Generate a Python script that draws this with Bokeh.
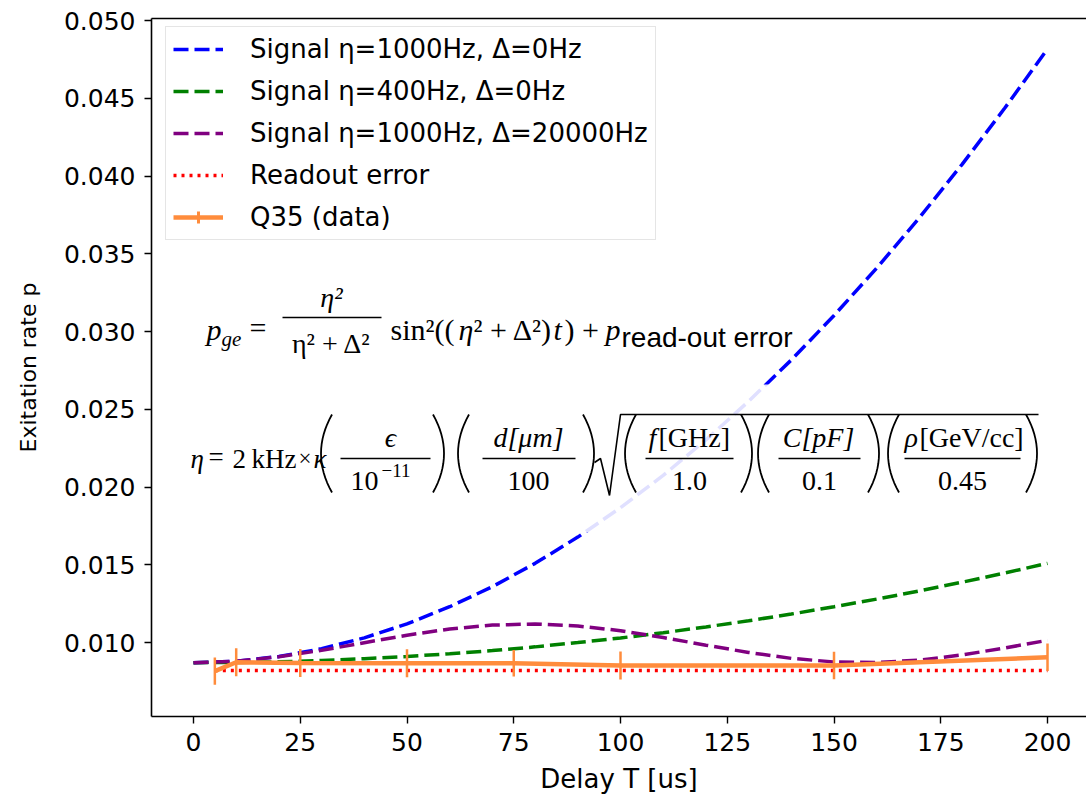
import numpy as np
from bokeh.plotting import figure
from bokeh.models import (Range1d, FixedTicker, PrintfTickFormatter, Label, BoxAnnotation,
                          PolyAnnotation, Legend, LegendItem, LinearAxis, ColumnDataSource)
from bokeh.embed import file_html
from bokeh.resources import INLINE

# ---------------- data ----------------
delay_curve = [0, 10, 20, 30, 40, 50, 60, 70, 80, 90, 100,
               110, 120, 130, 140, 150, 160, 170, 180, 190, 200]
signal_eta1000_d0 = [0.00870, 0.00880, 0.00910, 0.00960, 0.01030, 0.01120, 0.01230,
                     0.01359, 0.01509, 0.01678, 0.01867, 0.02075, 0.02303, 0.02551,
                     0.02817, 0.03103, 0.03408, 0.03732, 0.04075, 0.04437, 0.04817]
signal_eta400_d0 = [0.00870, 0.00872, 0.00876, 0.00884, 0.00896, 0.00910, 0.00928,
                    0.00948, 0.00972, 0.01000, 0.01029, 0.01063, 0.01100, 0.01140,
                    0.01183, 0.01230, 0.01279, 0.01332, 0.01388, 0.01447, 0.01509]
signal_eta1000_d20000 = [0.00870, 0.00880, 0.00908, 0.00950, 0.00999, 0.01047, 0.01087,
                         0.01112, 0.01119, 0.01106, 0.01076, 0.01032, 0.00983, 0.00936,
                         0.00898, 0.00875, 0.00871, 0.00887, 0.00920, 0.00965, 0.01014]
delay_data = [5, 10, 25, 50, 75, 100, 150, 200]
readout_error = [0.0082, 0.0082, 0.0082, 0.0082, 0.0082, 0.0082, 0.0082, 0.0082]
q35 = [0.00816, 0.00873, 0.00869, 0.00867, 0.00867, 0.00852, 0.00852, 0.00905]
q35_err = [0.00087, 0.00090, 0.00090, 0.00090, 0.00085, 0.00090, 0.00089, 0.00088]

x_ticks = [0, 25, 50, 75, 100, 125, 150, 175, 200]
y_ticks = [0.010, 0.015, 0.020, 0.025, 0.030, 0.035, 0.040, 0.045, 0.050]

labels = ["Signal \u03b7=1000Hz, \u0394=0Hz", "Signal \u03b7=400Hz, \u0394=0Hz",
          "Signal \u03b7=1000Hz, \u0394=20000Hz", "Readout error", "Q35 (data)"]

# ---------------- figure ----------------
p = figure(width=1086, height=798, output_backend="svg", toolbar_location=None,
           x_range=Range1d(-9.836, 209.13), y_range=Range1d(0.005242, 0.050129),
           min_border_left=151, min_border_right=0, min_border_top=18, min_border_bottom=82)
p.grid.visible = False
p.outline_line_color = None
p.background_fill_color = "white"

SANS = "DejaVu Sans"
for ax in (p.xaxis[0], p.yaxis[0]):
    ax.major_label_text_font = SANS
    ax.major_label_text_font_size = "25px"
    ax.major_label_text_color = "black"
    ax.axis_label_text_font = SANS
    ax.axis_label_text_font_style = "normal"
    ax.axis_label_text_color = "black"
    ax.major_tick_out = 7
    ax.major_tick_in = 0
    ax.minor_tick_line_color = None
    ax.axis_line_width = 1.6
    ax.major_tick_line_width = 1.4
    ax.major_label_standoff = 9

p.xaxis.ticker = FixedTicker(ticks=x_ticks)
p.yaxis.ticker = FixedTicker(ticks=y_ticks)
p.yaxis.formatter = PrintfTickFormatter(format="%.3f")
p.xaxis.axis_label = "Delay T [us]"
p.yaxis.axis_label = "Exitation rate p"
p.xaxis.axis_label_text_font_size = "26px"
p.yaxis.axis_label_text_font_size = "22px"
p.xaxis.axis_label_standoff = 10
p.yaxis.axis_label_standoff = 20

top = LinearAxis(ticker=FixedTicker(ticks=[]), axis_line_color="black", axis_line_width=1.6,
                 major_tick_line_color=None, minor_tick_line_color=None)
p.add_layout(top, "above")

# ---------------- curves ----------------
DASH = "15 6"
r_blue = p.line(delay_curve, signal_eta1000_d0, line_color="blue", line_width=3.5, line_dash=DASH)
r_green = p.line(delay_curve, signal_eta400_d0, line_color="green", line_width=3.5, line_dash=DASH)
r_purple = p.line(delay_curve, signal_eta1000_d20000, line_color="purple", line_width=3.5, line_dash=DASH)
r_red = p.line(delay_data, readout_error, line_color="red", line_width=3.5, line_dash="3 5")

ORANGE = "#ff8c3c"
src = ColumnDataSource(dict(x=delay_data, y=q35,
                            lo=[v - e for v, e in zip(q35, q35_err)],
                            hi=[v + e for v, e in zip(q35, q35_err)]))
r_err = p.segment(x0="x", y0="lo", x1="x", y1="hi", source=src, line_color=ORANGE, line_width=2.5)
r_q = p.line("x", "y", source=src, line_color=ORANGE, line_width=4.5)
r_qm = p.scatter("x", "y", source=src, marker="cross", size=0, line_color=ORANGE, line_width=3)

# ---------------- formula annotations ----------------
def dx(px):
    return (px - 193) / 4.27

def dy(py):
    return 0.010 + (642 - py) / 15550

SERIF = "Liberation Serif"

def T(s, px, py, size=28, style="normal", font=SERIF, align="left"):
    p.add_layout(Label(x=dx(px), y=dy(py), text=s, text_font=font, text_font_size=f"{size}px",
                       text_font_style=style, text_align=align, text_baseline="middle",
                       text_color="black"))

def bar(x0, x1, py):
    p.add_layout(BoxAnnotation(left=dx(x0), right=dx(x1), top=dy(py - 0.8), bottom=dy(py + 0.8),
                               fill_color="black", fill_alpha=1, line_color=None))

def stroke(pxs, pys, width=1.6):
    # open stroke, traced out and back so the closing edge is invisible
    xs = list(pxs) + list(pxs)[-2:0:-1]
    ys = list(pys) + list(pys)[-2:0:-1]
    p.add_layout(PolyAnnotation(xs=[dx(v) for v in xs], ys=[dy(v) for v in ys],
                                fill_alpha=0, line_color="black", line_alpha=1, line_width=width))

def paren(cx, left=True, cy=453, h=78, w=11):
    s = np.linspace(-1, 1, 17)
    bulge = w * (1 - s ** 2)
    xs = (cx + w / 2 - bulge) if left else (cx - w / 2 + bulge)
    ys = cy + s * h / 2
    stroke(xs, ys, 1.8)

# white translucent box behind the second formula
p.add_layout(BoxAnnotation(left=dx(163), right=dx(1076), top=dy(384), bottom=dy(532),
                           fill_color="white", fill_alpha=0.88, line_color=None))

# formula 1
T("p", 206, 329, 30, "italic")
T("ge", 221, 338, 21, "italic")
T("=", 249, 327, 30)
T("\u03b7\u00b2", 331, 297, 28, "italic", align="center")
bar(282, 381, 317)
T("\u03b7\u00b2 + \u0394\u00b2", 331, 343, 28, align="center")
T("sin\u00b2((", 390, 329, 30)
T("\u03b7", 458, 329, 30, "italic")
T("\u00b2 + \u0394\u00b2)", 473, 329, 30)
T("t", 553, 329, 30, "italic")
T(") +", 564, 329, 30)
T("p", 605, 329, 30, "italic")
T("read-out error", 621, 337, 28, font="Liberation Sans")

# formula 2
FY = 458
NY, DY = 437, 480
T("\u03b7", 190, FY, 27, "italic")
T("=", 208, FY - 2, 27)
T("2", 232, FY, 27)
T("kHz", 251, FY, 27)
T("\u00d7", 298, FY, 23)
T("\u03ba", 313, FY, 27, "italic")

paren(326, True)
T("\u03f5", 390, NY, 28, "italic", align="center")
bar(340, 430, FY)
T("10", 364, DY, 28, align="center")
T("\u221211", 381, 470, 19)
paren(438, False)

paren(463, True)
T("d[\u03bcm]", 528, NY, 28, "italic", align="center")
bar(482, 575, FY)
T("100", 528, DY, 28, align="center")
paren(588, False)

# radical sign
stroke([594, 600, 609, 620, 1038], [462, 458, 495, 414, 414], 1.6)

paren(630, True)
T("f", 648, NY, 28, "italic")
T("[GHz]", 658, NY, 28)
bar(645, 733, FY)
T("1.0", 689, DY, 28, align="center")
paren(746, False)

paren(763, True)
T("C[pF]", 818, NY, 28, "italic", align="center")
bar(778, 860, FY)
T("0.1", 819, DY, 28, align="center")
paren(873, False)

paren(893, True)
T("\u03c1", 904, NY, 28, "italic")
T("[GeV/cc]", 919, NY, 28)
bar(904, 1020, FY)
T("0.45", 962, DY, 28, align="center")
paren(1031, False)

# ---------------- legend ----------------
legend = Legend(items=[
    LegendItem(label=labels[0], renderers=[r_blue]),
    LegendItem(label=labels[1], renderers=[r_green]),
    LegendItem(label=labels[2], renderers=[r_purple]),
    LegendItem(label=labels[3], renderers=[r_red]),
    LegendItem(label=labels[4], renderers=[r_q, r_qm]),
], location=(14, 476))
legend.padding = 7
legend.spacing = 12
legend.glyph_width = 50
legend.glyph_height = 30
legend.label_height = 30
legend.label_standoff = 27
legend.label_text_font = SANS
legend.label_text_font_size = "26px"
legend.label_text_color = "black"
legend.border_line_color = "#cccccc"
legend.border_line_width = 1.5
legend.background_fill_alpha = 0.8
p.add_layout(legend)

open("out.html", "w").write(file_html(p, INLINE))
